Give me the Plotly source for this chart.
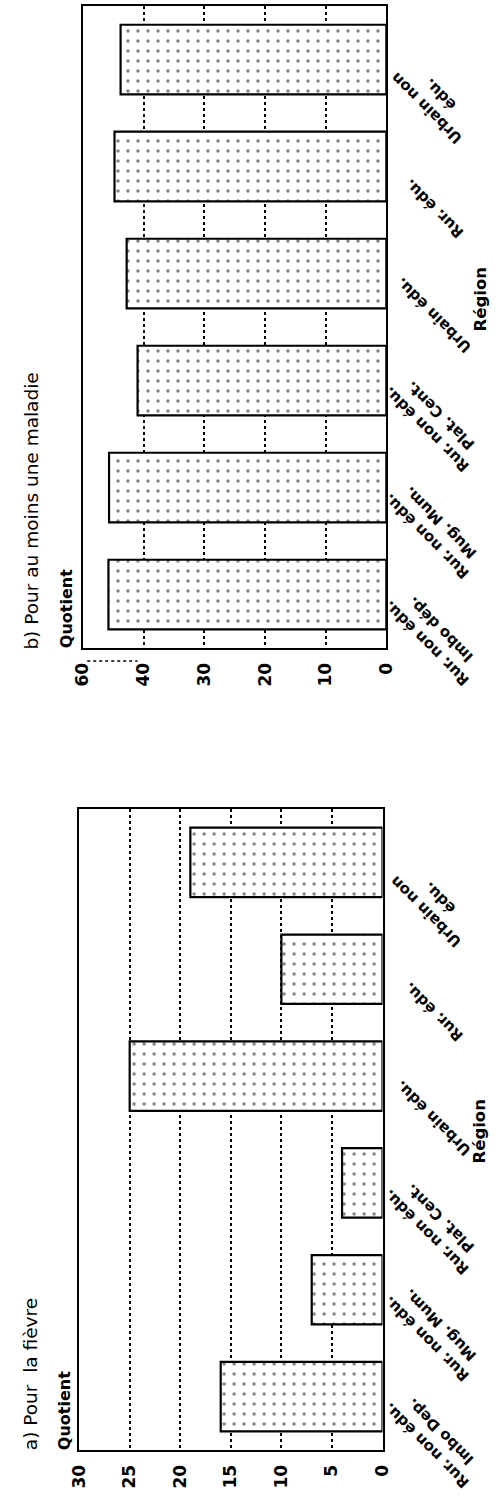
import plotly.graph_objects as go

# ---------------- data ----------------
cats_a = ["Rur. non édu.<br>Imbo Dep.", "Rur. non édu.<br>Mug. Mum.", "Rur. non édu.<br>Plat. Cent.",
          "Urbain édu.", "Rur. édu.", "Urbain non<br>édu."]
vals_a = [16, 7, 4, 25, 10, 19]

cats_b = ["Rur. non édu.<br>Imbo dép.", "Rur. non édu.<br>Mug. Mum.", "Rur. non édu.<br>Plat. Cent.",
          "Urbain édu.", "Rur. édu.", "Urbain non<br>édu."]
vals_b = [45.8, 45.7, 41.0, 42.8, 44.8, 43.8]

ticks_a = [0, 5, 10, 15, 20, 25, 30]
ticktext_a = ["0", "5", "10", "15", "20", "25", "30"]
ticks_b = [0, 10, 20, 30, 40, 50]
ticktext_b = ["0", "10", "20", "30", "40", "60"]  # broken axis: top mark labelled 60

title_a = "a) Pour  la fièvre"
title_b = "b) Pour au moins une maladie"
value_title = "Quotient"
cat_title = "Région"

# ---------------- layout helpers ----------------
W, H = 501, 1502
def px(xp):
    return xp / W
def py(yp):
    return (H - yp) / H

FONT = "DejaVu Sans"
pattern = dict(shape=".", fgcolor="black", bgcolor="white", size=10, solidity=0.09)

fig = go.Figure()
fig.add_trace(go.Bar(x=vals_a, y=cats_a, orientation="h", xaxis="x", yaxis="y", width=0.65,
                     marker=dict(color="white", line=dict(color="black", width=2.2), pattern=pattern),
                     hoverinfo="x+y"))
fig.add_trace(go.Bar(x=vals_b, y=cats_b, orientation="h", xaxis="x2", yaxis="y2", width=0.65,
                     marker=dict(color="white", line=dict(color="black", width=2.2), pattern=pattern),
                     hoverinfo="x+y"))

xcommon = dict(showgrid=True, gridcolor="black", griddash="dot", gridwidth=2,
               showline=True, linecolor="black", linewidth=2, mirror=True,
               ticks="", tickangle=-90, zeroline=False, ticklabelstandoff=6,
               tickfont=dict(family=FONT, size=17, color="black", weight="bold"))
ycommon = dict(type="category", range=[-0.5, 5.5], showticklabels=False, showgrid=False,
               showline=True, linecolor="black", linewidth=2, mirror=True, ticks="", zeroline=False)

fig.update_layout(
    width=W, height=H, margin=dict(l=0, r=0, t=0, b=0),
    paper_bgcolor="white", plot_bgcolor="white", showlegend=False,
    xaxis=dict(domain=[px(72), px(388)], range=[30, 0], anchor="y",
               tickvals=ticks_a, ticktext=ticktext_a, **xcommon),
    yaxis=dict(domain=[py(1450), py(809)], anchor="x",
               categoryorder="array", categoryarray=cats_a, **ycommon),
    xaxis2=dict(domain=[px(76), px(392)], range=[50, 0], anchor="y2",
                tickvals=ticks_b, ticktext=ticktext_b, **xcommon),
    yaxis2=dict(domain=[py(648), py(6)], anchor="x2",
                categoryorder="array", categoryarray=cats_b, **ycommon),
)

ann = []
labfont = dict(family=FONT, size=15, color="black", weight="bold")
for cats, yref in ((cats_a, "y"), (cats_b, "y2")):
    for c in cats:
        ann.append(dict(text=c, x=px(441), xref="paper", y=c, yref=yref, yshift=-42,
                        textangle=-135, showarrow=False, xanchor="center", yanchor="middle",
                        align="center", font=labfont))

# region titles
regfont = dict(family=FONT, size=16.5, color="black", weight="bold")
ann.append(dict(text=cat_title, x=px(488), y=py(1132), xref="paper", yref="paper", textangle=-90,
                showarrow=False, xanchor="center", yanchor="middle", font=regfont))
ann.append(dict(text=cat_title, x=px(490), y=py(299), xref="paper", yref="paper", textangle=-90,
                showarrow=False, xanchor="center", yanchor="middle", font=regfont))

# chart titles
tfont = dict(family=FONT, size=18.5, color="black")
qfont = dict(family=FONT, size=16, color="black", weight="bold")
ann.append(dict(text=title_a, x=px(21), y=py(1452), xref="paper", yref="paper", textangle=-90,
                showarrow=False, xanchor="center", yanchor="bottom", font=tfont))
ann.append(dict(text=value_title, x=px(57), y=py(1452), xref="paper", yref="paper", textangle=-90,
                showarrow=False, xanchor="center", yanchor="bottom", font=qfont))
ann.append(dict(text=title_b, x=px(22), y=py(652), xref="paper", yref="paper", textangle=-90,
                showarrow=False, xanchor="center", yanchor="bottom", font=tfont))
ann.append(dict(text=value_title, x=px(59), y=py(650), xref="paper", yref="paper", textangle=-90,
                showarrow=False, xanchor="center", yanchor="bottom", font=qfont))

fig.update_layout(annotations=ann)

# axis-break mark between 40 and 60
fig.add_shape(type="line", xref="x2", yref="paper", x0=49.3, x1=41, y0=py(661), y1=py(661),
              line=dict(color="black", width=1.5, dash="dot"))

fig.write_html("out.html")
